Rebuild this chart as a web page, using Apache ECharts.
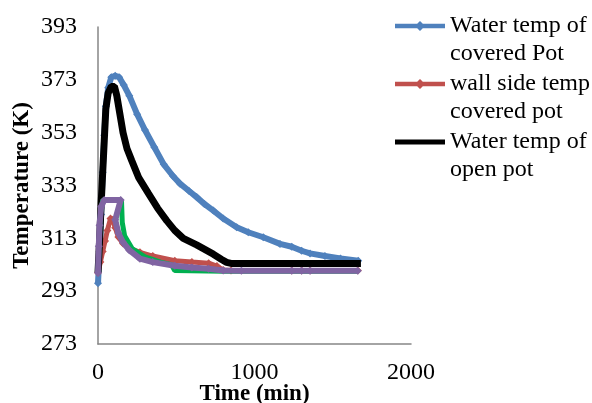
<!DOCTYPE html>
<html>
<head>
<meta charset="utf-8">
<script src="https://cdn.jsdelivr.net/npm/echarts@6/dist/echarts.min.js"></script>
<style>
  html, body { margin: 0; padding: 0; background: #fff; }
  #chart { width: 592px; height: 403px; }
</style>
</head>
<body>
<div id="chart"></div>
<script>
// series names (legend shows the first three)
const seriesNames = [
  'Water temp of\ncovered Pot',
  'wall side temp\ncovered pot',
  'Water temp of\nopen pot',
  'Series4',
  'Series5'
];

// [time (min), temperature (K)]
const coveredWater = [
  [0, 296], [10, 308], [20, 322], [30, 338], [40, 352], [50, 363], [65, 370], [85, 374],
  [110, 374.5], [135, 374], [165, 371], [200, 367], [250, 360], [300, 354], [360, 347.5],
  [420, 341], [480, 336.5], [524, 333.7], [580, 331], [630, 328.6], [680, 326], [737, 323.5],
  [800, 320.5], [886, 317.2], [960, 315.3], [1056, 313.4], [1163, 310.9], [1238, 309.8],
  [1301, 308.3], [1355, 307.3], [1450, 306.3], [1550, 305.4], [1663, 304.5]
];
const wallSide = [
  [0, 300], [15, 304], [30, 308], [45, 312], [60, 316], [80, 320.5], [95, 320], [110, 317],
  [130, 313.5], [160, 311], [200, 309.3], [268, 307.7], [350, 306.3], [491, 304.5], [600, 304],
  [707, 303.6], [760, 302.5], [800, 301], [850, 300.8], [1238, 300.8], [1301, 300.8],
  [1355, 300.8], [1660, 300.8]
];
const openWater = [
  [0, 300], [10, 312], [20, 326], [30, 338], [40, 350], [50, 362], [65, 368], [85, 370.5],
  [105, 370.5], [120, 367], [140, 360], [160, 353], [185, 347], [215, 342.5], [260, 336],
  [322, 330], [380, 324.5], [439, 319.7], [490, 316], [545, 313], [630, 310.5], [737, 307],
  [790, 305], [822, 303.9], [850, 303.5], [1000, 303.5], [1200, 303.5], [1400, 303.5], [1680, 303.5]
];
const series4 = [
  [0, 300], [8, 312], [15, 322], [30, 327.5], [150, 327.5], [155, 319], [170, 314], [220, 309],
  [300, 306], [400, 304], [470, 303], [490, 300.8], [800, 300.5], [1000, 300.5], [1660, 300.5]
];
const series5 = [
  [0, 300], [5, 310], [10, 318], [20, 325], [40, 327.5], [145, 327.5], [110, 320], [130, 315],
  [160, 311.5], [200, 308.5], [268, 305.3], [350, 304], [491, 302.6], [600, 302], [707, 301.5],
  [800, 300.8], [916, 300.7], [1238, 300.7], [1301, 300.7], [1355, 300.7], [1660, 300.7]
];

const seriesData = [coveredWater, wallSide, openWater, series4, series5];
const seriesColors = ['#4F81BD', '#C0504D', '#000000', '#00B050', '#8064A2'];
const seriesWidths = [6, 5, 7, 5, 6];
const seriesSymbols = ['diamond', 'diamond', 'none', 'none', 'diamond'];

const FONT = '"Liberation Serif", "Times New Roman", serif';

// legend icons: thick line, with a small diamond for the marked series
const lineDiamond = 'path://M0,2.8L22.2,2.8L25,0L27.8,2.8L50,2.8L50,7.2L27.8,7.2L25,10L22.2,7.2L0,7.2Z';
const lineOnly = 'path://M0,0L50,0L50,5L0,5Z';
const legendIcons = [lineDiamond, lineDiamond, lineOnly];

const chart = echarts.init(document.getElementById('chart'));

const option = {
  backgroundColor: '#fff',
  animation: false,
  grid: { left: 98, right: 181, top: 27, bottom: 59, outerBoundsMode: 'none' },
  legend: {
    data: seriesNames.slice(0, 3).map((n, i) => ({ name: n, icon: legendIcons[i] })),
    formatter: '\n{name}',
    orient: 'vertical',
    left: 395,
    top: -16,
    padding: 0,
    itemWidth: 50,
    itemHeight: 10,
    itemGap: -26,
    textStyle: { fontFamily: FONT, fontSize: 24, color: '#000', lineHeight: 28 }
  },
  xAxis: {
    type: 'value',
    min: 0, max: 2000, interval: 1000,
    name: 'Time (min)',
    nameLocation: 'middle',
    nameGap: 39,
    nameMoveOverlap: false,
    nameTextStyle: { fontFamily: FONT, fontSize: 23, fontWeight: 'bold', color: '#000' },
    axisLine: { show: true, lineStyle: { color: '#868686', width: 1.5 } },
    axisTick: { show: false },
    splitLine: { show: false },
    axisLabel: { fontFamily: FONT, fontSize: 24, color: '#000', margin: 17, formatter: v => String(v) }
  },
  yAxis: {
    type: 'value',
    min: 273, max: 393, interval: 20,
    name: 'Temperature (K)',
    nameLocation: 'middle',
    nameGap: 64,
    nameMoveOverlap: false,
    nameTextStyle: { fontFamily: FONT, fontSize: 23, fontWeight: 'bold', color: '#000' },
    axisLine: { show: true, lineStyle: { color: '#868686', width: 1.5 } },
    axisTick: { show: false },
    splitLine: { show: false },
    axisLabel: { fontFamily: FONT, fontSize: 24, color: '#000', margin: 21 }
  },
  series: seriesData.map((d, i) => ({
    name: seriesNames[i],
    type: 'line',
    data: d,
    color: seriesColors[i],
    symbol: seriesSymbols[i],
    symbolSize: 8,
    showSymbol: seriesSymbols[i] !== 'none',
    lineStyle: { width: seriesWidths[i], color: seriesColors[i] },
    itemStyle: { color: seriesColors[i] },
    z: 2 + i
  }))
};

chart.setOption(option);
</script>
</body>
</html>
